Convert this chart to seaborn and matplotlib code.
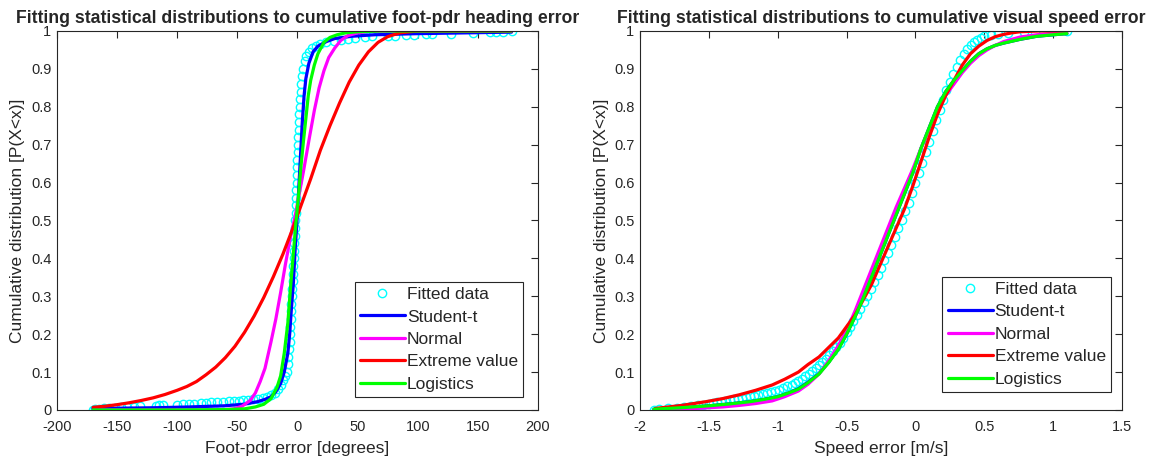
import numpy as np
import pandas as pd
import matplotlib
matplotlib.use('Agg')
import matplotlib.pyplot as plt
import seaborn as sns

# ---- left panel: foot-pdr heading error [degrees] ----
pdr_data_x = [-170, -168, -165, -161, -157, -152, -147, -142, -136, -131, -118, -115, -112, -100,
              -95, -90, -86, -80, -76, -72, -67, -62, -57, -53, -49, -45, -41, -37, -33, -29,
              -25, -22, -19, -16, -14, -12, -10,
              -9, -8, -7.5, -7, -6.5, -6, -5.8, -5.5, -5.2, -5, -4.7, -4.4, -4.1, -3.8, -3.5,
              -3.2, -3, -2.7, -2.4, -2.1, -1.8, -1.5, -1.3, -1.1, -0.9, -0.7, -0.5, -0.3, -0.1,
              0.1, 0.3, 0.6, 0.9, 1.2, 1.5, 1.9, 2.3, 2.8, 3.3, 4, 4.8, 6, 7.5, 9.5,
              12, 15, 19, 24, 30, 36, 42, 48,
              56, 62, 75, 81, 90, 97, 107, 112, 128, 146, 160, 165, 171, 178]
pdr_data_y = [0.0, 0.002, 0.003, 0.004, 0.005, 0.006, 0.007, 0.008, 0.009, 0.010, 0.011, 0.012, 0.013, 0.014,
              0.015, 0.016, 0.017, 0.018, 0.019, 0.02, 0.021, 0.022, 0.023, 0.024, 0.025, 0.026, 0.027, 0.028, 0.03, 0.032,
              0.035, 0.04, 0.045, 0.055, 0.065, 0.08, 0.09,
              0.10, 0.12, 0.14, 0.16, 0.18, 0.20, 0.22, 0.24, 0.26, 0.28, 0.30, 0.32, 0.34, 0.36, 0.38,
              0.40, 0.42, 0.44, 0.46, 0.48, 0.50, 0.52, 0.54, 0.56, 0.58, 0.60, 0.62, 0.64, 0.66,
              0.68, 0.70, 0.72, 0.74, 0.76, 0.78, 0.80, 0.82, 0.84, 0.86, 0.88, 0.90, 0.92, 0.935, 0.945,
              0.955, 0.96, 0.965, 0.97, 0.974, 0.977, 0.98, 0.982,
              0.985, 0.986, 0.987, 0.988, 0.989, 0.99, 0.991, 0.992, 0.993, 0.995, 0.996, 0.997, 0.998, 1.0]

pdr_t_x = [-170, -140, -117, -90, -61, -45, -33, -27, -22, -18, -14, -11, -8, -6.5, -5, -3.5, -2, -1, 0,
           1, 2, 3, 4, 5.5, 7, 9.5, 13, 17, 24, 31, 45, 64, 100, 140, 178]
pdr_t_y = [0.004, 0.005, 0.006, 0.008, 0.011, 0.015, 0.022, 0.028, 0.035, 0.048, 0.07, 0.10, 0.15, 0.20,
           0.27, 0.33, 0.42, 0.47, 0.52, 0.58, 0.64, 0.70, 0.76, 0.83, 0.875, 0.915, 0.945, 0.96, 0.972,
           0.98, 0.986, 0.99, 0.993, 0.995, 0.997]

pdr_norm_x = [-170, -80, -60, -53, -46, -39, -35, -31, -27, -22, -18, -14, -10, -5.6, -2, 0, 5, 10, 14,
              18, 22, 26, 31, 36, 42, 50, 60, 80, 178]
pdr_norm_y = [0.0, 0.0, 0.001, 0.003, 0.01, 0.026, 0.045, 0.075, 0.11, 0.18, 0.24, 0.31, 0.385, 0.46,
              0.51, 0.545, 0.63, 0.72, 0.79, 0.85, 0.895, 0.93, 0.955, 0.975, 0.988, 0.995, 0.999, 1.0, 1.0]

pdr_ev_x = [-170, -160, -150, -140, -130, -120, -110, -100, -92, -84, -76, -68, -60, -52, -44, -36,
            -28, -20, -12, -4, 3, 11, 19, 27, 35, 43, 51, 59, 67, 75, 85, 100, 178]
pdr_ev_y = [0.007, 0.010, 0.014, 0.019, 0.025, 0.032, 0.041, 0.052, 0.062, 0.075, 0.093, 0.113,
            0.138, 0.168, 0.205, 0.248, 0.297, 0.352, 0.412, 0.478, 0.54, 0.61, 0.685, 0.75, 0.81,
            0.865, 0.91, 0.945, 0.97, 0.985, 0.995, 1.0, 1.0]

pdr_logi_x = [-170, -100, -60, -44, -35, -28, -22, -17, -14, -11, -8, -5.6, -3.5, -1.4, 1, 2.8, 5, 7,
              9, 11, 14, 17, 22, 27, 33, 40, 50, 70, 178]
pdr_logi_y = [0.0, 0.0, 0.001, 0.003, 0.008, 0.015, 0.03, 0.06, 0.09, 0.15, 0.23, 0.33, 0.41, 0.49,
              0.57, 0.64, 0.71, 0.77, 0.83, 0.87, 0.91, 0.94, 0.97, 0.983, 0.99, 0.995, 0.998, 1.0, 1.0]

# ---- right panel: visual speed error [m/s] ----
spd_data_x = [-1.90, -1.86, -1.80, -1.73, -1.68, -1.63, -1.58, -1.54, -1.50, -1.47, -1.44, -1.41,
              -1.38, -1.35, -1.32, -1.29, -1.26, -1.23, -1.20, -1.17, -1.14, -1.11, -1.08, -1.05,
              -1.02, -0.99, -0.96, -0.93, -0.90, -0.875, -0.85, -0.825, -0.80, -0.775, -0.75,
              -0.725, -0.70, -0.675, -0.65, -0.625, -0.60, -0.575, -0.55, -0.525, -0.50, -0.475,
              -0.45, -0.425, -0.40, -0.375, -0.35, -0.325, -0.30, -0.275, -0.25, -0.225, -0.20,
              -0.175, -0.15, -0.125, -0.10, -0.075, -0.05, -0.025, 0.00, 0.025, 0.05, 0.075, 0.10,
              0.125, 0.15, 0.175, 0.20, 0.225, 0.25, 0.275, 0.30, 0.325, 0.35, 0.375, 0.40, 0.425,
              0.45, 0.475, 0.50, 0.55, 0.60, 0.67, 0.79, 0.87, 0.99, 1.10]
spd_data_y = [0.000, 0.002, 0.004, 0.006, 0.008, 0.010, 0.012, 0.014, 0.016, 0.018, 0.020, 0.022,
              0.024, 0.026, 0.028, 0.030, 0.032, 0.034, 0.036, 0.038, 0.040, 0.042, 0.045, 0.048,
              0.051, 0.054, 0.058, 0.062, 0.067, 0.072, 0.077, 0.083, 0.089, 0.096, 0.103,
              0.110, 0.118, 0.126, 0.135, 0.145, 0.155, 0.166, 0.178, 0.191, 0.205, 0.220,
              0.235, 0.251, 0.267, 0.284, 0.301, 0.319, 0.337, 0.356, 0.375, 0.395, 0.415,
              0.436, 0.457, 0.479, 0.501, 0.524, 0.547, 0.572, 0.598, 0.625, 0.652, 0.680, 0.708,
              0.737, 0.765, 0.792, 0.818, 0.843, 0.866, 0.887, 0.906, 0.924, 0.940, 0.953, 0.963, 0.971,
              0.977, 0.982, 0.986, 0.989, 0.992, 0.995, 0.997, 0.998, 0.999, 1.000]

spd_logi_x = [-1.9, -1.7, -1.5, -1.35, -1.2, -1.1, -1.0, -0.92, -0.85, -0.78, -0.70, -0.63, -0.56,
              -0.50, -0.44, -0.38, -0.32, -0.26, -0.20, -0.14, -0.08, -0.02, 0.04, 0.10, 0.16, 0.22,
              0.28, 0.34, 0.40, 0.46, 0.52, 0.58, 0.64, 0.76, 0.88, 1.0, 1.10]
spd_logi_y = [0.002, 0.006, 0.011, 0.016, 0.022, 0.028, 0.035, 0.045, 0.055, 0.072, 0.095, 0.125,
              0.16, 0.2, 0.245, 0.295, 0.35, 0.405, 0.46, 0.515, 0.57, 0.625, 0.69, 0.745, 0.80,
              0.84, 0.87, 0.895, 0.92, 0.94, 0.953, 0.962, 0.968, 0.978, 0.986, 0.99, 0.993]
spd_t_x = spd_logi_x
spd_t_y = [0.002, 0.006, 0.011, 0.016, 0.022, 0.028, 0.035, 0.045, 0.056, 0.073, 0.096, 0.126,
           0.161, 0.2, 0.245, 0.295, 0.35, 0.405, 0.46, 0.515, 0.57, 0.625, 0.69, 0.745, 0.80,
           0.84, 0.87, 0.896, 0.92, 0.94, 0.953, 0.962, 0.968, 0.978, 0.986, 0.99, 0.993]

spd_norm_x = [-1.9, -1.6, -1.4, -1.28, -1.16, -1.04, -0.95, -0.85, -0.78, -0.70, -0.63, -0.56, -0.50,
              -0.44, -0.38, -0.32, -0.26, -0.20, -0.14, -0.08, -0.02, 0.04, 0.10, 0.16, 0.22, 0.28,
              0.34, 0.40, 0.46, 0.52, 0.58, 0.64, 0.76, 0.88, 1.0, 1.10]
spd_norm_y = [0.0, 0.004, 0.008, 0.012, 0.017, 0.024, 0.035, 0.05, 0.068, 0.095, 0.13, 0.17, 0.21,
              0.26, 0.315, 0.37, 0.425, 0.48, 0.535, 0.585, 0.635, 0.69, 0.74, 0.79, 0.83, 0.86,
              0.89, 0.915, 0.935, 0.95, 0.962, 0.972, 0.984, 0.99, 0.994, 0.997]

spd_ev_x = [-1.89, -1.7, -1.52, -1.4, -1.28, -1.16, -1.04, -0.95, -0.85, -0.78, -0.70, -0.63, -0.56,
            -0.50, -0.44, -0.38, -0.32, -0.26, -0.20, -0.14, -0.08, -0.02, 0.04, 0.10, 0.16, 0.22,
            0.28, 0.34, 0.40, 0.46, 0.52, 0.58, 0.64, 0.70, 0.76, 0.9, 1.10]
spd_ev_y = [0.004, 0.012, 0.022, 0.03, 0.04, 0.052, 0.066, 0.081, 0.10, 0.12, 0.14, 0.165, 0.19,
            0.22, 0.25, 0.29, 0.33, 0.38, 0.43, 0.48, 0.53, 0.59, 0.655, 0.72, 0.78, 0.83, 0.87,
            0.91, 0.94, 0.96, 0.975, 0.985, 0.991, 0.995, 0.998, 1.0, 1.0]

legend_labels = ['Fitted data', 'Student-t', 'Normal', 'Extreme value', 'Logistics']
panel_titles = ['Fitting statistical distributions to cumulative foot-pdr heading error',
                'Fitting statistical distributions to cumulative visual speed error']
x_labels = ['Foot-pdr error [degrees]', 'Speed error [m/s]']
y_label = 'Cumulative distribution [P(X<x)]'
x_ticks = [[-200, -150, -100, -50, 0, 50, 100, 150, 200],
           [-2, -1.5, -1, -0.5, 0, 0.5, 1, 1.5]]
x_ticklabels = [['-200', '-150', '-100', '-50', '0', '50', '100', '150', '200'],
                ['-2', '-1.5', '-1', '-0.5', '0', '0.5', '1', '1.5']]
y_ticks = [0, 0.1, 0.2, 0.3, 0.4, 0.5, 0.6, 0.7, 0.8, 0.9, 1]
y_ticklabels = ['0', '0.1', '0.2', '0.3', '0.4', '0.5', '0.6', '0.7', '0.8', '0.9', '1']

sns.set_theme(style='white')
plt.rcParams['font.family'] = ['Liberation Sans', 'DejaVu Sans']

fig = plt.figure(figsize=(11.53, 4.59), dpi=100)
ax1 = fig.add_axes([0.0494, 0.1068, 0.4172, 0.8257])
ax2 = fig.add_axes([0.5551, 0.1068, 0.4180, 0.8257])

colors = {'Student-t': '#0000ff', 'Normal': '#ff00ff', 'Extreme value': '#ff0000', 'Logistics': '#00ff00'}

panels = [
    (ax1, (pdr_data_x, pdr_data_y), [(pdr_t_x, pdr_t_y), (pdr_norm_x, pdr_norm_y),
                                     (pdr_ev_x, pdr_ev_y), (pdr_logi_x, pdr_logi_y)], (-200, 200),
     (0.969, 0.034)),
    (ax2, (spd_data_x, spd_data_y), [(spd_t_x, spd_t_y), (spd_norm_x, spd_norm_y),
                                     (spd_ev_x, spd_ev_y), (spd_logi_x, spd_logi_y)], (-2, 1.5),
     (0.977, 0.0475)),
]

for i, (ax, data, curves, xlim, leg_anchor) in enumerate(panels):
    sns.lineplot(x=data[0], y=data[1], ax=ax, sort=False, estimator=None,
                 linestyle='none', marker='o', markersize=6, markerfacecolor='none',
                 markeredgecolor='#00ffff', markeredgewidth=1.0, label=legend_labels[0])
    for name, (cx, cy) in zip(legend_labels[1:], curves):
        sns.lineplot(x=cx, y=cy, ax=ax, sort=False, estimator=None,
                     color=colors[name], linewidth=2.3, label=name)
    ax.set_xlim(*xlim)
    ax.set_ylim(0, 1)
    ax.set_xticks(x_ticks[i])
    ax.set_xticklabels(x_ticklabels[i])
    ax.set_yticks(y_ticks)
    ax.set_yticklabels(y_ticklabels)
    ax.tick_params(direction='in', length=5, width=0.8, top=True, right=True,
                   labelsize=10.5, colors='#262626')
    ax.tick_params(axis='x', pad=7)
    ax.tick_params(axis='y', pad=4)
    for s in ax.spines.values():
        s.set_color('#262626')
        s.set_linewidth(0.8)
    ax.set_xlabel(x_labels[i], fontsize=12.5, color='#262626', labelpad=5)
    ax.set_ylabel(y_label, fontsize=12.5, color='#262626', labelpad=4)
    ax.set_title(panel_titles[i], fontsize=12.7, fontweight='bold', pad=6)
    leg = ax.legend(loc='lower right', bbox_to_anchor=leg_anchor,
                    fontsize=12.5, frameon=True, fancybox=False, handlelength=2.6,
                    handletextpad=0.1, labelspacing=0.42, borderpad=0.3, borderaxespad=0.0)
    leg.get_frame().set_edgecolor('#262626')
    leg.get_frame().set_linewidth(0.8)
    leg.get_frame().set_alpha(1)

fig.savefig('out.png', dpi=100)
